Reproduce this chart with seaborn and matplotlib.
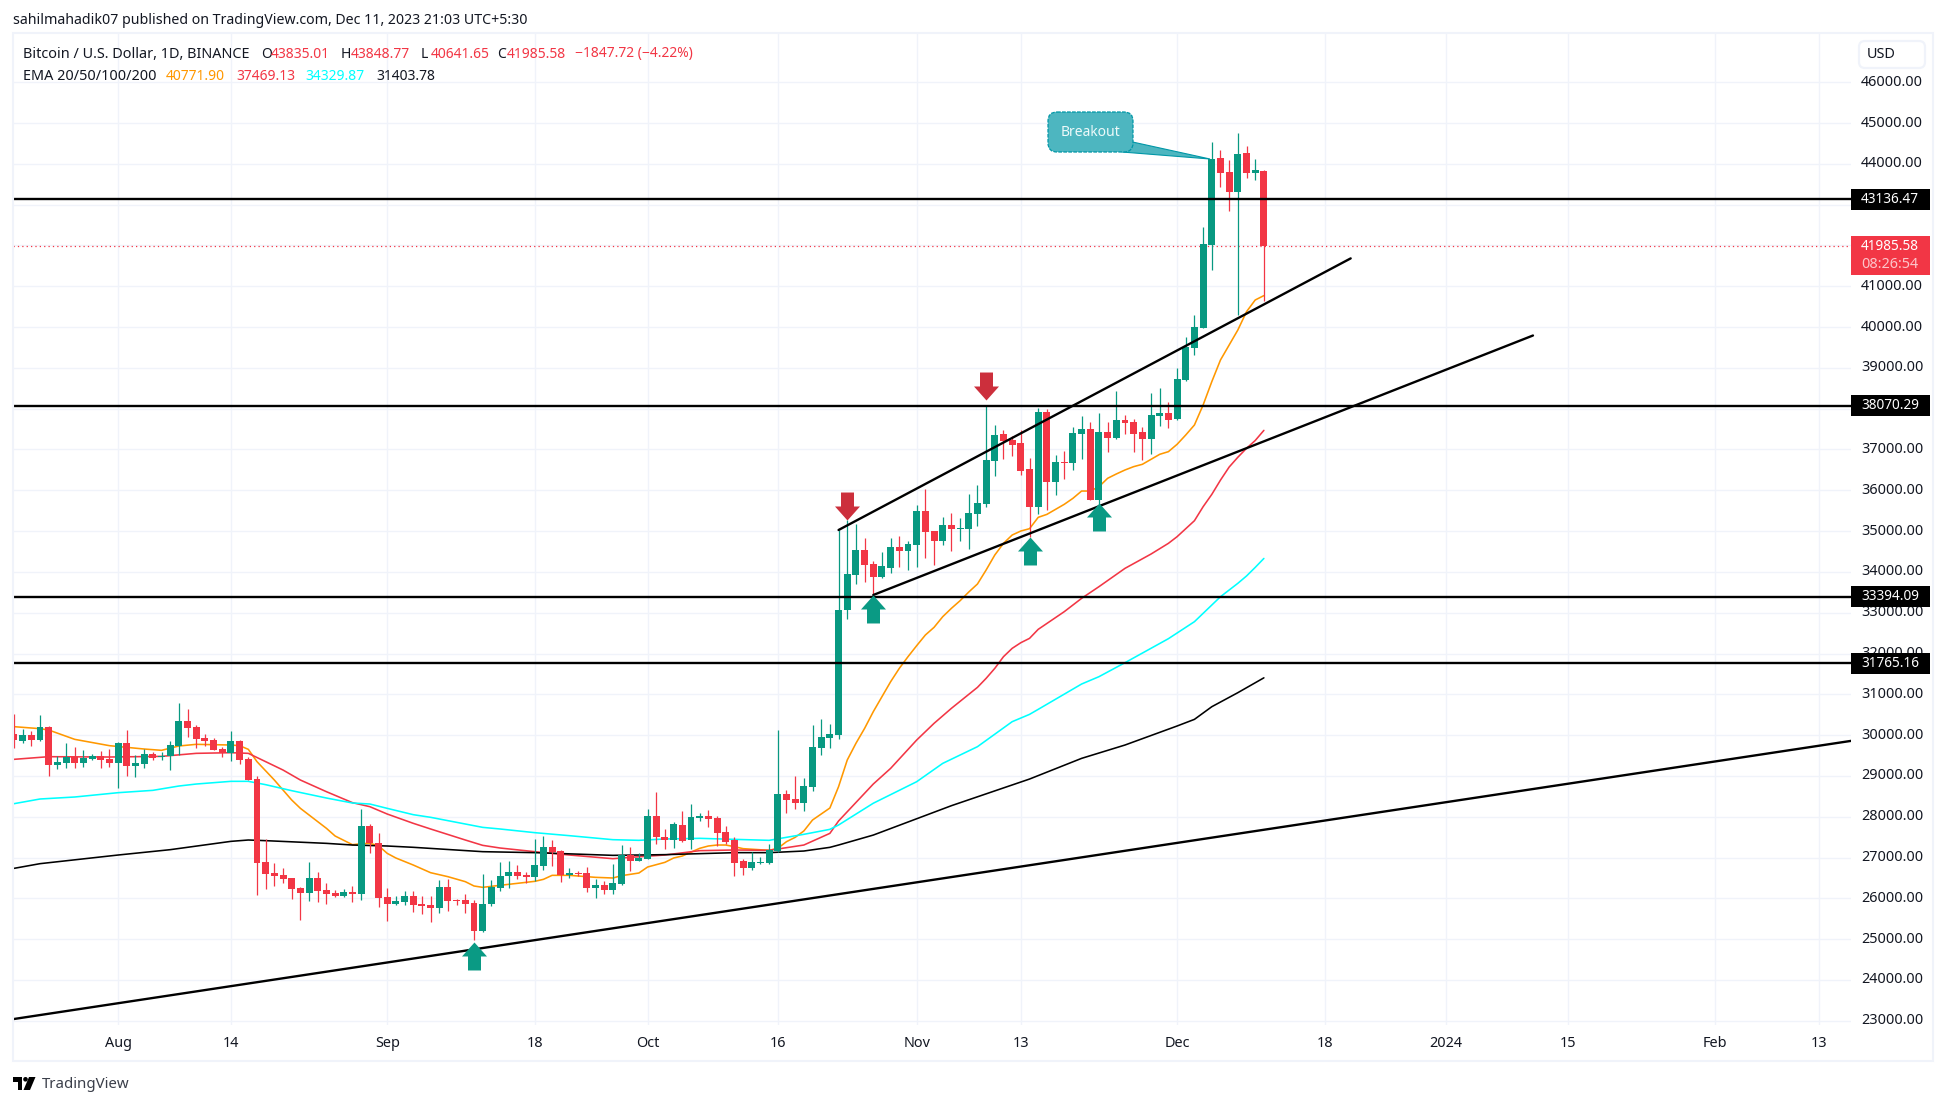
import matplotlib
matplotlib.use("Agg")
import matplotlib.pyplot as plt
import pandas as pd
import seaborn as sns
from matplotlib.patches import FancyBboxPatch, Polygon, Rectangle, Circle
from matplotlib.path import Path
from matplotlib.transforms import Affine2D, blended_transform_factory

# daily candles, 2023-07-20 to 2023-12-11
opens = [30027, 29855, 30002, 29880, 30198, 29267, 29316, 29463, 29316, 29414, 29488, 29414,
         29316, 29806, 29243, 29292, 29537, 29463, 29488, 29733, 30345, 30198, 29929, 29880, 29659, 29561, 29855, 29414,
         28924, 26890, 26620, 26571, 26497, 26252, 26130, 26497, 26203, 26130, 26056, 26154, 26105, 27772, 27355,
         26032, 25860, 25909, 26056, 25869, 25836, 25762, 26277, 25958, 25958, 25885, 25199, 25860, 26253, 26547, 26645, 26571, 26522, 26792, 27257, 27159, 26571, 26620, 26620, 26253, 26326, 26204, 26351, 27061, 26914,
         26963, 28017, 27503, 27429, 27797, 27429, 27968, 28017, 27968, 27625, 27429, 26914, 26743, 26865, 26865, 27159, 28556, 28434, 28336, 28728, 29683, 29928, 30002, 33066, 33924, 34536, 34193, 33875, 34095, 34610, 34512,
         34659, 35492, 35002, 34757, 35149, 35051, 35051, 35419, 35664, 36718, 37380, 37233, 37160, 36522, 35591, 37920, 36204, 36694, 36670, 37380, 37503, 35763, 37429, 37282, 37723, 37674, 37429, 37258, 37821, 37895,
         37747, 38703, 39488, 39978, 42012, 44144, 43801, 43311, 44267, 43777, 43835]
highs = [30517, 30149, 30100, 30493, 30223, 29488, 29806, 29708, 29635, 29537, 29610, 29659,
         29831, 30125, 29512, 29659, 29586, 29586, 29855, 30787, 30640, 30247, 30027, 29929, 29708, 30100, 29880, 29463,
         28997, 27453, 26865, 26743, 26497, 26277, 26890, 26644, 26375, 26203, 26228, 26301, 28189, 27821, 27600,
         26252, 26056, 26179, 26179, 26056, 26056, 26449, 26473, 25983, 26106, 25958, 26596, 26449, 26890, 26914, 26816, 26645, 27454, 27527, 27429, 27184, 26743, 26669, 26767, 26473, 26424, 26841, 27306, 27257, 27110,
         28189, 28606, 27699, 27870, 28140, 28311, 28091, 28164, 28017, 27772, 27503, 26963, 27135, 27012, 27331, 30137, 28655, 28998, 28949, 30247, 30394, 30272, 35026, 35272, 35174, 34830, 34267, 34487, 34830, 34879, 34757,
         35639, 36031, 35002, 35345, 35443, 35321, 35909, 36129, 38074, 37600, 37478, 37331, 37478, 36792, 38018, 37993, 36866, 36964, 37552, 37821, 37674, 37895, 37674, 38434, 37846, 37748, 37552, 38385, 38508, 38165,
         38998, 39757, 40296, 42453, 44537, 44340, 44095, 44757, 44439, 44120, 43848]
lows = [29684, 29806, 29733, 29855, 28997, 29169, 29194, 29194, 29218, 29390, 29194, 29218,
        28703, 28997, 28973, 29194, 29390, 29390, 29144, 29512, 29953, 29684, 29733, 29635, 29463, 29365, 29292, 28899,
        26081, 26228, 26301, 26375, 25983, 25468, 25934, 25909, 25860, 26032, 26032, 25909, 25958, 27110, 25787,
        25444, 25836, 25836, 25664, 25615, 25419, 25640, 25689, 25836, 25640, 24978, 25174, 25811, 26179, 26253, 26473, 26375, 26424, 26694, 26792, 26400, 26498, 26547, 26154, 26007, 26106, 26106, 26326, 26669, 26914,
        26963, 27331, 27208, 27233, 27380, 27208, 27895, 27748, 27282, 27331, 26547, 26571, 26694, 26841, 26841, 27135, 28091, 28189, 28140, 28630, 29512, 29683, 29904, 32845, 33703, 33752, 33433, 33850, 33973, 34120, 34046,
        34120, 34340, 34169, 34659, 34512, 34757, 34561, 35125, 35590, 36350, 36767, 36841, 36375, 34856, 35420, 35517, 35885, 36277, 36498, 36767, 35763, 35665, 36939, 37258, 37380, 36939, 36743, 36890, 37576, 37527,
        37723, 38679, 39316, 39978, 41399, 43434, 42845, 40296, 43654, 43605, 40641]
closes = [29880, 30002, 29880, 30198, 29267, 29341, 29463, 29316, 29439, 29488, 29390, 29316,
          29806, 29243, 29316, 29537, 29439, 29488, 29757, 30345, 30174, 29904, 29855, 29635, 29561, 29855, 29390, 28899,
          26865, 26595, 26546, 26473, 26228, 26130, 26497, 26179, 26105, 26056, 26154, 26105, 27772, 27355, 26007,
          25860, 25934, 26056, 25836, 25820, 25762, 26277, 25934, 25934, 25860, 25199, 25860, 26277, 26547, 26645, 26547, 26522, 26816, 27257, 27135, 26571, 26620, 26596, 26253, 26326, 26204, 26375, 27061, 26914, 26988,
          28017, 27503, 27429, 27821, 27404, 27993, 28017, 27944, 27601, 27380, 26865, 26743, 26890, 26890, 27184, 28556, 28409, 28336, 28753, 29708, 29953, 30026, 33066, 33948, 34536, 34169, 33875, 34144, 34610, 34512, 34683,
          35492, 34978, 34757, 35149, 35051, 35076, 35443, 35688, 36742, 37355, 37208, 37111, 36473, 35591, 37920, 36204, 36694, 36670, 37405, 37503, 35763, 37429, 37282, 37723, 37650, 37380, 37258, 37846, 37895, 37723,
          38728, 39512, 40002, 42037, 44120, 43777, 43311, 44242, 43777, 43850, 41985.58]

# EMA readings
ema20_dates = ["07-20", "07-23", "07-24", "07-27", "07-31", "08-02", "08-04", "08-06", "08-08", "08-10", "08-14", "08-15", "08-16", "08-17", "08-19", "08-21", "08-22", "08-25", "08-26", "08-28", "08-29", "08-30", "08-31",
               "09-01", "09-02", "09-04", "09-06", "09-08", "09-10", "09-11", "09-12", "09-14", "09-18", "09-19", "09-20", "09-22", "09-25", "09-27", "09-28", "09-30",
               "10-01", "10-03", "10-04", "10-05", "10-07", "10-08", "10-09", "10-10", "10-11", "10-12", "10-15", "10-16", "10-17", "10-18", "10-19", "10-20", "10-22", "10-23", "10-24", "10-25", "10-26", "10-27", "10-28", "10-29", "10-30", "10-31",
               "11-01", "11-02", "11-03", "11-04", "11-05", "11-06", "11-07", "11-08", "11-09", "11-10", "11-11", "11-12", "11-13", "11-14", "11-15", "11-16", "11-17", "11-18", "11-19", "11-20", "11-21", "11-22", "11-23", "11-24", "11-25", "11-26", "11-27", "11-28", "11-29", "11-30",
               "12-01", "12-02", "12-03", "12-04", "12-05", "12-06", "12-07", "12-08", "12-09", "12-10", "12-11"]
ema20 = [30207, 30158, 30125, 29896, 29741, 29700, 29659, 29627, 29733, 29774, 29757, 29741, 29651, 29349, 28899, 28409, 28205, 27715, 27527, 27314, 27339, 27347, 27290,
         27102, 26988, 26816, 26628, 26530, 26408, 26302, 26269, 26318, 26416, 26465, 26563, 26563, 26514, 26498, 26555, 26620,
         26767, 26882, 26988, 27037, 27225, 27282, 27306, 27306, 27266, 27217, 27176, 27225, 27388, 27494, 27650, 27919, 28213, 28736, 29389, 29798, 30165, 30574, 30942, 31309, 31636, 31922,
         32192, 32453, 32641, 32902, 33107, 33294, 33507, 33703, 34046, 34414, 34700, 34904, 35002, 35059, 35337, 35410, 35533, 35656, 35803, 35982, 35982, 36089, 36294, 36400, 36498, 36580, 36637, 36759, 36882, 36947,
         37127, 37356, 37601, 38091, 38663, 39194, 39561, 39929, 40378, 40664, 40771.9]

ema50_dates = ["07-20", "07-24", "07-31", "08-06", "08-10", "08-14", "08-16", "08-18", "08-20", "08-22", "08-25", "08-28", "08-30", "09-01", "09-04", "09-06", "09-10", "09-12", "09-14", "09-18", "09-22", "09-27", "09-29",
               "10-03", "10-07", "10-11", "10-15", "10-19", "10-22", "10-23", "10-27", "10-29", "11-01", "11-03", "11-05", "11-08", "11-09", "11-10", "11-11", "11-12", "11-13", "11-14", "11-15", "11-18", "11-20", "11-22", "11-25", "11-28", "11-30",
               "12-01", "12-03", "12-04", "12-05", "12-06", "12-07", "12-08", "12-09", "12-10", "12-11"]
ema50 = [29406, 29471, 29463, 29479, 29553, 29569, 29553, 29349, 29144, 28899, 28613, 28344, 28246, 28066, 27838, 27699, 27429, 27298, 27233, 27143, 27061, 26971, 27004,
         27061, 27168, 27184, 27176, 27306, 27592, 27895, 28801, 29185, 29879, 30288, 30656, 31170, 31391, 31636, 31922, 32126, 32265, 32371, 32592, 33025, 33352, 33638, 34087, 34438, 34700,
         34863, 35255, 35598, 35900, 36250, 36570, 36810, 37029, 37220, 37469.13]

ema100_dates = ["07-20", "07-23", "07-27", "08-01", "08-05", "08-08", "08-10", "08-14", "08-16", "08-18", "08-21", "08-25", "08-28", "08-30", "09-01", "09-04", "09-06", "09-12", "09-14", "09-18", "09-22", "09-27", "09-30",
                "10-03", "10-07", "10-11", "10-15", "10-19", "10-22", "10-23", "10-27", "11-01", "11-04", "11-08", "11-12", "11-14", "11-15", "11-20", "11-22", "11-25", "11-30",
                "12-03", "12-06", "12-08", "12-09", "12-10", "12-11"]
ema100 = [28319, 28434, 28483, 28589, 28646, 28752, 28801, 28867, 28867, 28785, 28638, 28458, 28336, 28311, 28205, 28050, 27985, 27739, 27699, 27609, 27535, 27437, 27421,
          27454, 27470, 27445, 27421, 27568, 27690, 27797, 28330, 28858, 29307, 29716, 30329, 30508, 30631, 31252, 31432, 31775, 32363,
          32780, 33392, 33720, 33900, 34110, 34329.87]

ema200_dates = ["07-20", "07-23", "08-01", "08-07", "08-14", "08-16", "08-18", "08-25", "08-28", "09-01", "09-04", "09-12", "09-18", "09-27",
                "10-03", "10-11", "10-15", "10-19", "10-22", "10-23", "10-27", "11-05", "11-14", "11-20", "11-25",
                "12-01", "12-03", "12-05", "12-08", "12-11"]
ema200 = [26734, 26849, 27061, 27192, 27396, 27429, 27413, 27347, 27306, 27282, 27250, 27143, 27119, 27053,
          27070, 27119, 27119, 27159, 27249, 27306, 27550, 28270, 28923, 29430, 29757,
          30223, 30386, 30696, 31040, 31403.78]

levels = [43136.47, 38070.29, 33394.09, 31765.16]

# hand drawn lines on the chart: (start date, start price, end date, end price)
trend_lines = [("2023-07-19", 23010, "2024-02-17", 29870),
               ("2023-10-23", 35027, "2023-12-21", 41684),
               ("2023-10-27", 33434, "2024-01-11", 39794)]

up_dates = ["2023-09-11", "2023-10-27", "2023-11-14", "2023-11-22"]
up_prices = [24929, 33434, 34863, 35681]
down_dates = ["2023-10-24", "2023-11-09"]
down_prices = [35272, 38225]

price_ticks = list(range(23000, 47000, 1000))
time_ticks = ["2023-08-01", "2023-08-14", "2023-09-01", "2023-09-18", "2023-10-01", "2023-10-16", "2023-11-01", "2023-11-13",
              "2023-12-01", "2023-12-18", "2024-01-01", "2024-01-15", "2024-02-01", "2024-02-13"]
time_labels = ["Aug", "14", "Sep", "18", "Oct", "16", "Nov", "13", "Dec", "18", "2024", "15", "Feb", "13"]

GREEN = "#089981"
RED = "#f23645"
ORANGE = "#ff9800"
CYAN = "#00ffff"
INK = "#131722"
GRID = "#f0f3fa"

W, H = 1946, 1105
PANE = (13, 33, 1851, 1025)  # left, top, right, bottom in pixels

sns.set_style("whitegrid", {"grid.color": GRID, "axes.edgecolor": GRID})
plt.rcParams["font.family"] = ["Noto Sans", "DejaVu Sans"]

fig = plt.figure(figsize=(W / 100, H / 100), dpi=100)
ax = fig.add_axes([PANE[0] / W, 1 - PANE[3] / H, (PANE[2] - PANE[0]) / W, (PANE[3] - PANE[1]) / H])
px = Affine2D().scale(1 / W, -1 / H).translate(0, 1) + fig.transFigure

dates = pd.date_range("2023-07-20", periods=len(opens), freq="D")
df = pd.DataFrame({"date": dates, "o": opens, "h": highs, "l": lows, "c": closes})
df["color"] = [GREEN if c >= o else RED for o, c in zip(df.o, df.c)]

# emas go under the candles
for ds, vals, col in [(ema20_dates, ema20, ORANGE), (ema50_dates, ema50, RED),
                      (ema100_dates, ema100, CYAN), (ema200_dates, ema200, "#000000")]:
    when = pd.to_datetime(["2023-" + d for d in ds])
    sns.lineplot(x=when, y=vals, ax=ax, color=col, linewidth=1.15, estimator=None, zorder=2)

ax.vlines(df.date, df.l, df.h, colors=df.color, linewidth=0.9, zorder=3)
ax.bar(df.date, (df.c - df.o).abs().clip(lower=25), bottom=df[["o", "c"]].min(axis=1), width=0.8, color=df.color, linewidth=0, zorder=3)

for lv in levels:
    ax.axhline(lv, color="black", linewidth=1.7, zorder=4)
ax.axhline(closes[-1], color=RED, linewidth=0.9, linestyle=(0, (1, 2.5)), zorder=2)

for d0, p0, d1, p1 in trend_lines:
    sns.lineplot(x=pd.to_datetime([d0, d1]), y=[p0, p1], ax=ax, color="black", linewidth=1.7, estimator=None, zorder=4)

# arrows: tip of the marker sits on the point
up_arrow = Path([(0, 0), (12.5, -14), (6.5, -14), (6.5, -28), (-6.5, -28), (-6.5, -14), (-12.5, -14), (0, 0)], closed=True)
down_arrow = Path([(0, 0), (12.5, 14), (6.5, 14), (6.5, 28), (-6.5, 28), (-6.5, 14), (-12.5, 14), (0, 0)], closed=True)
ax.plot(pd.to_datetime(up_dates), up_prices, ls="", marker=up_arrow, ms=40.3, mfc="#0a9a84", mew=0, zorder=5)
ax.plot(pd.to_datetime(down_dates), down_prices, ls="", marker=down_arrow, ms=40.3, mfc="#cc2f3c", mew=0, zorder=5)

# axes
base = pd.Timestamp("2023-08-01")
ax.set_xlim(base + pd.Timedelta(days=-12.11), base + pd.Timedelta(days=199.64))
ax.set_ylim(22895, 47208)
ax.set_xlabel("")
ax.set_ylabel("")
ax.set_axisbelow(True)
ax.yaxis.tick_right()
ax.set_yticks(price_ticks)
ax.set_yticklabels([f"{p:.2f}" for p in price_ticks], va="center")
ax.set_xticks(pd.to_datetime(time_ticks))
ax.set_xticklabels(time_labels)
ax.tick_params(axis="y", length=0, pad=7.2, labelsize=10.4, labelcolor=INK, right=False)
ax.tick_params(axis="x", length=0, pad=7.7, labelsize=10.4, labelcolor=INK)
for t in ax.get_xticklabels():
    if t.get_text() == "2024":
        t.set_fontweight("bold")
ax.grid(True, color=GRID, linewidth=1.0)
for s in ax.spines.values():
    s.set_visible(False)

# frame around pane and scales
fig.add_artist(Rectangle((13, 33), 1920, 1028, transform=px, fill=False, ec=GRID, lw=1.5))

# price labels on the right scale
lab = blended_transform_factory(px, ax.transData)
for lv in levels:
    ax.add_patch(Rectangle((1851, lv - 257), 79, 514, transform=lab, fc="black", ec="none", clip_on=False, zorder=6))
    ax.text(1861, lv, f"{lv:.2f}", transform=lab, color="white", fontsize=9.8, fontweight="bold", va="center", clip_on=False, zorder=7)
fig.add_artist(Rectangle((1851, 236), 79, 39, transform=px, fc=RED, ec="none", zorder=6))


def txt(x, y, s, **kw):
    kw.setdefault("color", INK)
    kw.setdefault("fontsize", 10)
    kw.setdefault("va", "center")
    fig.text(x, y, s, transform=px, **kw)


txt(1861, 246.5, f"{closes[-1]:.2f}", color="white", fontsize=9.8, fontweight="bold", zorder=7)
txt(1861, 265, "08:26:54", color="#fcc5ca", fontsize=10.4, zorder=7)

fig.add_artist(FancyBboxPatch((1859, 41), 66, 27, boxstyle="round,pad=0,rounding_size=6", transform=px, fc="white", ec=GRID, lw=1.6, mutation_aspect=1))
txt(1867, 55, "USD", fontsize=10.4)

# header rows
txt(13, 20, "sahilmahadik07 published on TradingView.com, Dec 11, 2023 21:03 UTC+5:30", fontsize=10.2)
txt(23, 54, "Bitcoin / U.S. Dollar, 1D, BINANCE", fontsize=10.4)
for x, lbl, val in [(261, "O", "43835.01"), (341, "H", "43848.77"), (421, "L", "40641.65"), (497, "C", "41985.58")]:
    txt(x, 54, lbl)
    txt(x + 10, 54, val, color=RED)
txt(575, 54, "\u22121847.72 (\u22124.22%)", color=RED)
txt(23, 76, "EMA 20/50/100/200", fontsize=10.4)
txt(166, 76, "40771.90", color=ORANGE)
txt(236, 76, "37469.13", color=RED)
txt(305, 76, "34329.87", color=CYAN)
txt(376, 76, "31403.78")

# callout
TEAL = "#4db6c0"
EDGE = "#0097a7"
fig.add_artist(Polygon([(1128, 141), (1210, 159), (1122, 152)], closed=True, transform=px, fc=TEAL, ec=EDGE, lw=0.8, zorder=8))
fig.add_artist(FancyBboxPatch((1048, 112), 85, 40, boxstyle="round,pad=0,rounding_size=9", transform=px, fc=TEAL, ec=EDGE, lw=0.9, ls=(0, (3, 1)), zorder=9))
txt(1090, 132, "Breakout", color="#eefafa", fontsize=10, ha="center", zorder=10, fontweight="bold")

# TradingView logo, bottom left
fig.add_artist(Polygon([(13, 1077), (22, 1077), (22, 1090), (17.5, 1090), (17.5, 1081.5), (13, 1081.5)], closed=True, transform=px, fc="black", ec="none"))
fig.add_artist(Circle((25.5, 1079.3), 2.3, transform=px, fc="black", ec="none"))
fig.add_artist(Polygon([(29, 1077), (35.5, 1077), (30, 1090), (23.5, 1090)], closed=True, transform=px, fc="black", ec="none"))
txt(42, 1084, "TradingView", color="#3b3f4a", fontsize=10.8)

fig.savefig("out.png", dpi=100, facecolor="white")
